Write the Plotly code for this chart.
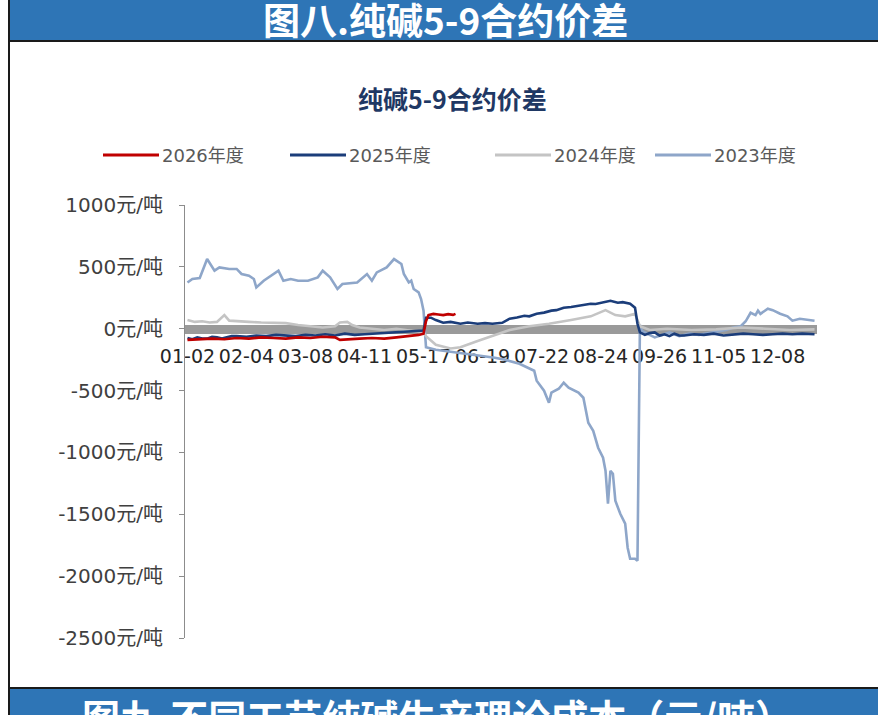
import plotly.graph_objects as go

# ---------------- data ----------------
tick_index = [0, 24, 48, 72, 96, 120, 144, 168, 192, 216, 240]
tick_labels = ["01-02", "02-04", "03-08", "04-11", "05-17", "06-19",
               "07-22", "08-24", "09-26", "11-05", "12-08"]

y_ticks = [1000, 500, 0, -500, -1000, -1500, -2000, -2500]
y_tick_labels = ["1000元/吨", "500元/吨", "0元/吨", "-500元/吨", "-1000元/吨",
                 "-1500元/吨", "-2000元/吨", "-2500元/吨"]

s2026_x = [0, 5, 10, 15, 20, 25, 30, 35, 40, 45, 50, 55, 60, 62, 65, 70, 75, 80, 85, 90, 94, 96,
           97, 98, 100, 102, 104, 106, 108, 109]
s2026_y = [-90, -85, -80, -85, -75, -80, -70, -75, -80, -70, -75, -65, -70, -90, -85, -80, -75,
           -80, -70, -60, -50, -40, 60, 110, 120, 115, 110, 118, 112, 120]

s2025_x = [0, 2, 4, 6, 8, 10, 12, 14, 16, 18, 20, 24, 28, 32, 36, 40, 44, 48, 52, 56, 60, 64, 68,
           72, 76, 80, 84, 88, 92, 96,
           97, 99, 101, 104, 107, 111, 114, 118, 121, 124, 128, 131, 134, 137, 139, 142, 145, 148,
           150, 153, 156, 159, 161, 164, 166, 169, 172, 175, 177, 180, 182, 183, 184,
           186, 188, 190, 192, 194, 196, 198, 200, 202, 206, 210, 214, 218, 222, 226, 230, 234,
           238, 242, 246, 250, 255]
s2025_y = [-75, -85, -70, -80, -80, -65, -70, -80, -70, -60, -60, -65, -55, -60, -50, -55, -60,
           -50, -55, -45, -55, -40, -50, -45, -40, -35, -30, -25, -20, -15,
           89, 89, 70, 48, 55, 40, 50, 40, 45, 40, 48, 81, 90, 105, 100, 121, 130, 146,
           150, 170, 175, 186, 190, 202, 200, 210, 226, 210, 215, 202, 170, 40, -30,
           -50, -35, -30, -55, -45, -60, -40, -55, -55, -45, -50, -40, -55, -45, -40, -45, -50,
           -45, -40, -45, -40, -45]

s2024_x = [0, 3, 6, 9, 12, 15, 17, 20, 25, 30, 35, 40, 45, 50, 55, 60, 62, 65, 67, 70, 75, 80, 85,
           90, 96, 97, 101, 107, 111, 118, 124, 131, 139, 147, 156, 164, 170, 174, 178, 182, 184,
           188, 195, 205, 215, 225, 235, 245, 255]
s2024_y = [70, 55, 60, 50, 55, 110, 65, 60, 55, 50, 50, 45, 30, 20, 10, 20, 50, 55, 30, 10, 0, -10,
           0, -15, -30, -60, -130, -160, -150, -100, -60, -10, 20, 40, 70, 100, 150, 110, 100, 120,
           20, -10, 0, -10, -5, 10, 0, -10, -5]

s2023_x = [0, 2, 5, 8, 11, 13, 17, 20, 22, 25, 27, 28, 31, 33, 37, 39, 42, 45, 49, 53, 55, 58, 61,
           63, 69, 73, 75, 77, 81, 84, 87, 88, 90, 91, 92, 94, 95, 96,
           97, 101, 107, 113, 119, 125, 129, 133, 135, 141, 142, 145, 147, 148, 151, 153, 155, 159,
           161, 163, 165, 167, 169, 170, 171, 172, 173, 174, 176, 178, 179, 180, 182, 183,
           184, 185, 187, 190, 193, 196, 200, 204, 208, 212, 216, 219, 222, 225, 227, 229, 231,
           232, 233, 236, 238, 241, 244, 246, 249, 252, 255]
s2023_y = [374, 402, 410, 563, 469, 496, 483, 483, 442, 428, 402, 334, 388, 415, 469, 388, 402, 388,
           388, 415, 469, 415, 321, 361, 374, 442, 388, 455, 496, 563, 523, 442, 374, 388, 321, 294,
           240, 146,
           -150, -170, -185, -200, -215, -235, -250, -270, -283, -340, -420, -501, -598, -517, -485,
           -437, -477, -517, -558, -760, -825, -962, -1043, -1148, -1415, -1148, -1172, -1390,
           -1496, -1576, -1770, -1859, -1859, -1876,
           30, -20, -40, -70, -50, -30, -60, -40, -50, -35, -20, -10, 10, 20, 60, 129, 110, 146,
           120, 162, 150, 121, 100, 65, 80, 75, 65]

series = [
    ("2023年度", s2023_x, s2023_y, "#8ea6c9"),
    ("2024年度", s2024_x, s2024_y, "#c4c4c4"),
    ("2025年度", s2025_x, s2025_y, "#1b3d7a"),
    ("2026年度", s2026_x, s2026_y, "#c00000"),
]
legend_order = ["2026年度", "2025年度", "2024年度", "2023年度"]

# ---------------- layout helpers ----------------
W, H = 878, 715
L, R, T, B = 185, 817, 205, 638
Y_MIN, Y_MAX = -2500, 1000


def px(x):
    return (x - L) / (R - L)


def py(y):
    return (B - y) / (B - T)


fig = go.Figure()
for name, xs, ys, col in series:
    fig.add_trace(go.Scatter(x=xs, y=ys, mode="lines", name=name,
                             line=dict(color=col, width=2.6), showlegend=False))

shapes = []
annotations = []

# header / footer bars and frame
shapes.append(dict(type="rect", xref="paper", yref="paper", x0=px(10), x1=px(880),
                   y0=py(-2), y1=py(40), fillcolor="#2e75b6", line=dict(width=0), layer="below"))
shapes.append(dict(type="rect", xref="paper", yref="paper", x0=px(10), x1=px(880),
                   y0=py(689), y1=py(730), fillcolor="#2e75b6", line=dict(width=0), layer="below"))
shapes.append(dict(type="line", xref="paper", yref="paper", x0=px(10), x1=px(880),
                   y0=py(41), y1=py(41), line=dict(color="#1a1a1a", width=2)))
shapes.append(dict(type="line", xref="paper", yref="paper", x0=px(10), x1=px(880),
                   y0=py(688), y1=py(688), line=dict(color="#1a1a1a", width=2)))
shapes.append(dict(type="line", xref="paper", yref="paper", x0=px(9), x1=px(9),
                   y0=py(-2), y1=py(720), line=dict(color="#1a1a1a", width=2)))

annotations.append(dict(text="<b>图八.纯碱5-9合约价差</b>", xref="paper", yref="paper",
                        x=px(445), y=py(19), showarrow=False, xanchor="center", yanchor="middle",
                        font=dict(family="Noto Sans CJK SC", size=37, color="white")))
annotations.append(dict(text="<b>图九.不同工艺纯碱生产理论成本（元/吨）</b>", xref="paper",
                        yref="paper", x=px(437), y=py(715), showarrow=False, xanchor="center",
                        yanchor="middle",
                        font=dict(family="Noto Sans CJK SC", size=38, color="white")))
annotations.append(dict(text="<b>纯碱5-9合约价差</b>", xref="paper", yref="paper",
                        x=px(452), y=py(98), showarrow=False, xanchor="center", yanchor="middle",
                        font=dict(family="Noto Sans CJK SC", size=25, color="#1f3864")))

# manual legend
leg_pos = {"2026年度": 103, "2025年度": 290, "2024年度": 495, "2023年度": 655}
col_map = {n: c for n, _, _, c in series}
for name in legend_order:
    x0 = leg_pos[name]
    shapes.append(dict(type="line", xref="paper", yref="paper", x0=px(x0), x1=px(x0 + 56),
                       y0=py(155), y1=py(155), line=dict(color=col_map[name], width=3)))
    annotations.append(dict(text=name, xref="paper", yref="paper", x=px(x0 + 57), y=py(155),
                            showarrow=False, xanchor="left", yanchor="middle",
                            font=dict(family="DejaVu Sans, Noto Sans CJK SC", size=18,
                                      color="#595959")))

fig.update_layout(
    width=W, height=H,
    margin=dict(l=L, r=W - R, t=T, b=H - B, pad=0),
    paper_bgcolor="white", plot_bgcolor="white",
    showlegend=False,
    shapes=shapes, annotations=annotations,
    xaxis=dict(range=[-1, 256], tickmode="array", tickvals=tick_index, ticktext=tick_labels,
               showline=True, linecolor="#9a9a9a", linewidth=9, anchor="free",
               position=(0 - Y_MIN) / (Y_MAX - Y_MIN), layer="below traces",
               ticks="", showgrid=False, zeroline=False, ticklabelstandoff=6,
               tickfont=dict(family="DejaVu Sans", size=19, color="#262626")),
    yaxis=dict(range=[Y_MIN, Y_MAX], tickmode="array", tickvals=y_ticks, ticktext=y_tick_labels,
               showline=True, linecolor="#8c8c8c", linewidth=1, ticks="outside", ticklen=5,
               tickcolor="#8c8c8c", showgrid=False, zeroline=False, ticklabelstandoff=12,
               tickfont=dict(family="DejaVu Sans, Noto Sans CJK SC", size=20, color="#404040")),
)

fig.write_html("out.html", config={"displayModeBar": False},
               post_script="document.body.style.margin='0';document.body.style.overflow='hidden';")
